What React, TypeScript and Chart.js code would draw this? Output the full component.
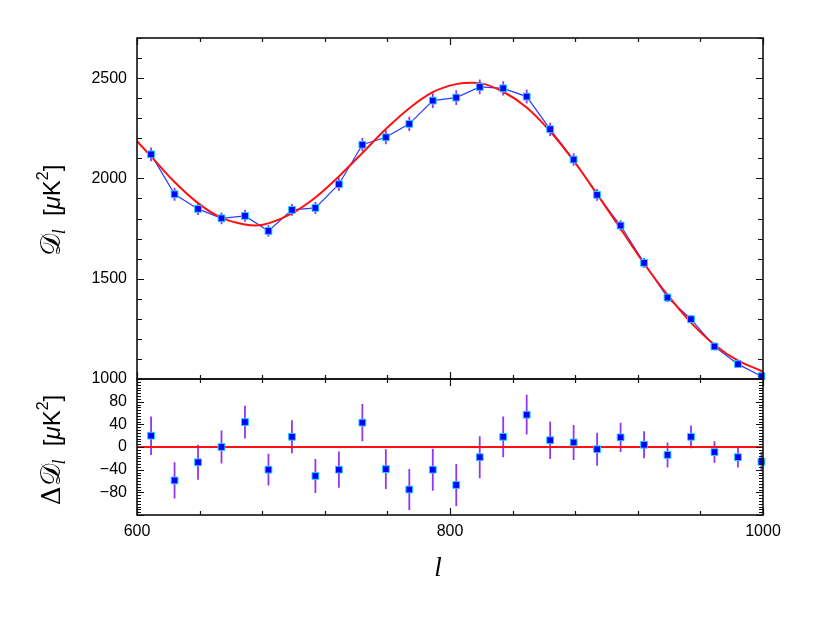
import React, { useEffect, useRef } from 'react';
import { Chart, registerables } from 'chart.js';

Chart.register(...registerables);

// multipole bins
const ell = [609, 624, 639, 654, 669, 684, 699, 714, 729, 744, 759, 774, 789, 804, 819, 834, 849, 864, 879, 894, 909, 924, 939, 954, 969, 984, 999];
// measured D_l [muK^2]
const Dl = [2120, 1921, 1848, 1801, 1813, 1738, 1843, 1853, 1971, 2168, 2205, 2272, 2388, 2403, 2456, 2449, 2408, 2245, 2094, 1918, 1765, 1579, 1406, 1298, 1162, 1074, 1014];
// 1-sigma errors
const errDl = [34, 32, 31, 29, 29, 28, 29, 30, 32, 33, 35, 36, 37, 37, 37, 36, 35, 33, 31, 29, 26, 24, 22, 20, 19, 18, 17];
// residuals (data - model)
const residual = [20, -59, -27, 0, 44, -40, 18, -51, -40, 43, -39, -75, -40, -67, -18, 18, 57, 12, 8, -4, 17, 4, -14, 18, -9, -18, -26];
// best-fit model curve
const modelEll = [600, 609, 624, 639, 654, 669, 676, 684, 699, 714, 729, 744, 759, 774, 789, 804, 814, 819, 834, 849, 864, 879, 894, 909, 924, 939, 954, 969, 984, 999, 1000];
const modelDl = [2185, 2110, 1982, 1877, 1803, 1770, 1765, 1776, 1826, 1905, 2010, 2127, 2246, 2350, 2430, 2470, 2477, 2475, 2432, 2354, 2235, 2088, 1922, 1749, 1576, 1419, 1281, 1171, 1091, 1040, 1036];
// zero reference line for residual panel
const zeroEll = [600, 1000];
const zeroVal = [0, 0];

// tick labels
const xTicks = [600, 800, 1000];
const topYTicks = [1000, 1500, 2000, 2500];
const botYTicks = [-80, -40, 0, 40, 80];

const TICK_FONT = { family: "'Liberation Sans', Arial, sans-serif", size: 16 };
const SANS = "'Liberation Sans', Arial, sans-serif";
const SERIF = "'Liberation Serif', 'DejaVu Serif', serif";

type Part = { t: string; font: string; dy?: number };

function drawRotated(ctx: CanvasRenderingContext2D, x: number, cy: number, parts: Part[]) {
  ctx.save();
  ctx.translate(x, cy);
  ctx.rotate(-Math.PI / 2);
  ctx.textAlign = 'left';
  ctx.textBaseline = 'alphabetic';
  ctx.fillStyle = '#000';
  let total = 0;
  const widths = parts.map((p) => {
    ctx.font = p.font;
    const w = ctx.measureText(p.t).width;
    total += w;
    return w;
  });
  let cur = -total / 2;
  parts.forEach((p, i) => {
    ctx.font = p.font;
    ctx.fillText(p.t, cur, p.dy || 0);
    cur += widths[i];
  });
  ctx.restore();
}

function framePlugin(yStep: number, yMajorStep: number, yMinLen: number, yMajLen: number) {
  return {
    id: 'frame',
    afterDatasetsDraw(chart: any) {
      const { ctx, chartArea: a, scales } = chart;
      const xs = scales.x;
      const ys = scales.y;
      ctx.save();
      ctx.strokeStyle = '#111';
      ctx.lineWidth = 1.2;
      ctx.beginPath();
      const nx = Math.round((xs.max - xs.min) / 40);
      for (let i = 0; i <= nx; i++) {
        const v = xs.min + i * 40;
        const px = Math.round(xs.getPixelForValue(v)) + 0.5;
        const len = v % 200 === 0 ? 7 : 4;
        ctx.moveTo(px, a.top);
        ctx.lineTo(px, a.top + len);
        ctx.moveTo(px, a.bottom);
        ctx.lineTo(px, a.bottom - len);
      }
      const ny = Math.round((ys.max - ys.min) / yStep);
      for (let i = 0; i <= ny; i++) {
        const v = ys.min + i * yStep;
        const py = Math.round(ys.getPixelForValue(v)) + 0.5;
        const len = Math.abs(v % yMajorStep) < 1e-6 ? yMajLen : yMinLen;
        ctx.moveTo(a.left, py);
        ctx.lineTo(a.left + len, py);
        ctx.moveTo(a.right, py);
        ctx.lineTo(a.right - len, py);
      }
      ctx.stroke();
      ctx.lineWidth = 1.6;
      ctx.strokeRect(a.left, a.top, a.right - a.left, a.bottom - a.top);
      ctx.restore();
    },
  };
}

function errorBarPlugin(centers: number[]) {
  return {
    id: 'errbars',
    beforeDatasetsDraw(chart: any) {
      const { ctx, chartArea: a, scales } = chart;
      ctx.save();
      ctx.beginPath();
      ctx.rect(a.left, a.top, a.right - a.left, a.bottom - a.top);
      ctx.clip();
      ctx.strokeStyle = '#9436ee';
      ctx.lineWidth = 1.8;
      ctx.beginPath();
      ell.forEach((l, i) => {
        const px = scales.x.getPixelForValue(l);
        ctx.moveTo(px, scales.y.getPixelForValue(centers[i] - errDl[i]));
        ctx.lineTo(px, scales.y.getPixelForValue(centers[i] + errDl[i]));
      });
      ctx.stroke();
      ctx.restore();
    },
  };
}

const markerStyle = {
  pointStyle: 'rect' as const,
  pointRadius: 4.8,
  pointBackgroundColor: '#0000ff',
  pointBorderColor: '#22d0ff',
  pointBorderWidth: 1,
};

const plainLabel = (v: any) => {
  const n = Number(v);
  return n < 0 ? '\u2212' + Math.abs(n) : String(n);
};

function titleParts(prefix: Part[]): Part[] {
  return [
    ...prefix,
    { t: '𝒟', font: `28px 'DejaVu Serif', serif` },
    { t: 'l', font: `italic 18px ${SERIF}`, dy: 5 },
    { t: '  [', font: `24px ${SANS}` },
    { t: 'μ', font: `italic 24px ${SANS}` },
    { t: 'K', font: `24px ${SANS}` },
    { t: '2', font: `16px ${SANS}`, dy: -12 },
    { t: ']', font: `24px ${SANS}` },
  ];
}

export default function App() {
  const topRef = useRef<HTMLCanvasElement>(null);
  const botRef = useRef<HTMLCanvasElement>(null);

  useEffect(() => {
    const topTitle = {
      id: 'topTitle',
      afterDraw(chart: any) {
        const a = chart.chartArea;
        drawRotated(chart.ctx, 60, (a.top + a.bottom) / 2 + 2, titleParts([]));
      },
    };

    const botTitle = {
      id: 'botTitle',
      afterDraw(chart: any) {
        const a = chart.chartArea;
        const ctx = chart.ctx as CanvasRenderingContext2D;
        drawRotated(ctx, 60, (a.top + a.bottom) / 2 + 3, titleParts([{ t: 'Δ', font: `26px 'DejaVu Serif', serif` }]));
        ctx.save();
        ctx.fillStyle = '#000';
        ctx.font = `italic 27px ${SERIF}`;
        ctx.textAlign = 'center';
        ctx.textBaseline = 'alphabetic';
        ctx.fillText('l', (a.left + a.right) / 2 - 12, 576);
        ctx.restore();
      },
    };

    const top = new Chart(topRef.current!, {
      type: 'line',
      data: {
        datasets: [
          {
            label: 'data line',
            data: ell.map((x, i) => ({ x, y: Dl[i] })),
            borderColor: '#2a3cff',
            borderWidth: 1.2,
            pointRadius: 0,
            order: 3,
          },
          {
            label: 'model',
            data: modelEll.map((x, i) => ({ x, y: modelDl[i] })),
            borderColor: '#ff1010',
            borderWidth: 2,
            pointRadius: 0,
            cubicInterpolationMode: 'monotone',
            order: 2,
          },
          {
            label: 'data',
            data: ell.map((x, i) => ({ x, y: Dl[i] })),
            showLine: false,
            clip: 6,
            order: 1,
            ...markerStyle,
          } as any,
        ],
      },
      options: {
        responsive: false,
        animation: false,
        events: [],
        layout: { padding: { top: 38, right: 67, bottom: 642 - 379, left: 0 } },
        plugins: { legend: { display: false }, tooltip: { enabled: false } },
        scales: {
          x: { type: 'linear', min: 600, max: 1000, display: false },
          y: {
            type: 'linear',
            min: 1000,
            max: 2700,
            afterFit: (s: any) => {
              s.width = 137;
            },
            afterBuildTicks: (s: any) => {
              s.ticks = topYTicks.map((v) => ({ value: v }));
            },
            grid: { display: false, drawTicks: false },
            border: { display: false },
            ticks: { font: TICK_FONT, color: '#000', padding: 10, callback: plainLabel },
          },
        },
      },
      plugins: [errorBarPlugin(Dl), framePlugin(100, 500, 5, 7), topTitle],
    } as any);

    const bot = new Chart(botRef.current!, {
      type: 'line',
      data: {
        datasets: [
          {
            label: 'zero',
            data: zeroEll.map((x, i) => ({ x, y: zeroVal[i] })),
            borderColor: '#ff1010',
            borderWidth: 2,
            pointRadius: 0,
            order: 2,
          },
          {
            label: 'residual',
            data: ell.map((x, i) => ({ x, y: residual[i] })),
            showLine: false,
            clip: 6,
            order: 1,
            ...markerStyle,
          } as any,
        ],
      },
      options: {
        responsive: false,
        animation: false,
        events: [],
        layout: { padding: { top: 379, right: 67, bottom: 0, left: 0 } },
        plugins: { legend: { display: false }, tooltip: { enabled: false } },
        scales: {
          x: {
            type: 'linear',
            min: 600,
            max: 1000,
            afterFit: (s: any) => {
              s.height = 642 - 515;
            },
            afterBuildTicks: (s: any) => {
              s.ticks = xTicks.map((v) => ({ value: v }));
            },
            grid: { display: false, drawTicks: false },
            border: { display: false },
            ticks: { font: TICK_FONT, color: '#000', padding: 7, maxRotation: 0, callback: plainLabel },
          },
          y: {
            type: 'linear',
            min: -120,
            max: 120,
            afterFit: (s: any) => {
              s.width = 137;
            },
            afterBuildTicks: (s: any) => {
              s.ticks = botYTicks.map((v) => ({ value: v }));
            },
            grid: { display: false, drawTicks: false },
            border: { display: false },
            ticks: { font: TICK_FONT, color: '#000', padding: 10, callback: plainLabel },
          },
        },
      },
      plugins: [errorBarPlugin(residual), framePlugin(5, 40, 4, 7), botTitle],
    } as any);

    return () => {
      top.destroy();
      bot.destroy();
    };
  }, []);

  return (
    <div style={{ position: 'absolute', left: 0, top: 0, width: 830, height: 642, background: '#fff' }}>
      <canvas ref={topRef} width={830} height={642} style={{ position: 'absolute', left: 0, top: 0 }} />
      <canvas ref={botRef} width={830} height={642} style={{ position: 'absolute', left: 0, top: 0 }} />
    </div>
  );
}
